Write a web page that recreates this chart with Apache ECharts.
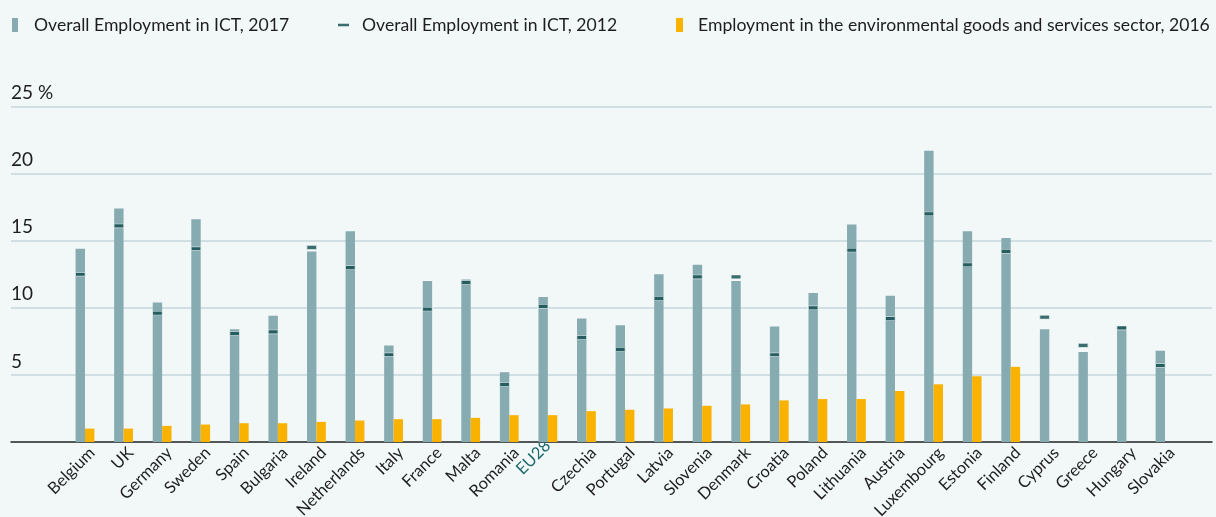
<!DOCTYPE html>
<html>
<head>
<meta charset="utf-8">
<script src="https://cdn.jsdelivr.net/npm/echarts@6/dist/echarts.min.js"></script>
<style>
  html, body { margin: 0; padding: 0; background: #f2f7f7; }
  #chart { width: 1216px; height: 517px; }
</style>
</head>
<body>
<div id="chart"></div>
<script>
const categories = ['Belgium', 'UK', 'Germany', 'Sweden', 'Spain', 'Bulgaria', 'Ireland', 'Netherlands', 'Italy', 'France',
  'Malta', 'Romania', 'EU28', 'Czechia', 'Portugal', 'Latvia', 'Slovenia', 'Denmark', 'Croatia', 'Poland',
  'Lithuania', 'Austria', 'Luxembourg', 'Estonia', 'Finland', 'Cyprus', 'Greece', 'Hungary', 'Slovakia']
// Overall Employment in ICT, 2017
const ict2017 = [14.4, 17.4, 10.4, 16.6, 8.4, 9.4, 14.2, 15.7, 7.2, 12.0,
  12.1, 5.2, 10.8, 9.2, 8.7, 12.5, 13.2, 12.0, 8.6, 11.1,
  16.2, 10.9, 21.7, 15.7, 15.2, 8.4, 6.7, 8.6, 6.8]
// Overall Employment in ICT, 2012
const ict2012 = [12.5, 16.1, 9.6, 14.4, 8.1, 8.2, 14.5, 13.0, 6.5, 9.9,
  11.9, 4.3, 10.1, 7.8, 6.9, 10.7, 12.3, 12.3, 6.5, 10.0,
  14.3, 9.2, 17.0, 13.2, 14.2, 9.3, 7.2, 8.5, 5.7]
// Employment in the environmental goods and services sector, 2016
const env2016 = [1.0, 1.0, 1.2, 1.3, 1.4, 1.4, 1.5, 1.6, 1.7, 1.7,
  1.8, 2.0, 2.0, 2.3, 2.4, 2.5, 2.7, 2.8, 3.1, 3.2,
  3.2, 3.8, 4.3, 4.9, 5.6, null, null, null, null]
const yTicks = [0, 5, 10, 15, 20, 25]

const names = ['Overall Employment in ICT, 2017', 'Overall Employment in ICT, 2012',
  'Employment in the environmental goods and services sector, 2016']
const FONT = 'Lato'
const legendText = (padLeft) => ({
  color: '#1e1e1e',
  fontSize: 17.6,
  fontFamily: FONT,
  lineHeight: 20,
  padding: [0, 0, 0, padLeft]
})

const chart = echarts.init(document.getElementById('chart'))
chart.setOption({
  backgroundColor: '#f2f7f7',
  animation: false,
  textStyle: { fontFamily: FONT },
  legend: [
    {
      left: 12, top: 15, padding: 0, itemWidth: 6, itemHeight: 14,
      data: [{ name: names[0], icon: 'rect' }],
      textStyle: legendText(11)
    },
    {
      left: 338, top: 15, padding: 0, itemWidth: 11, itemHeight: 2.5,
      data: [{ name: names[1], icon: 'rect', itemStyle: { borderWidth: 0 } }],
      textStyle: legendText(8)
    },
    {
      left: 676, top: 15, padding: 0, itemWidth: 7, itemHeight: 14,
      data: [{ name: names[2], icon: 'rect' }],
      textStyle: legendText(10)
    }
  ],
  grid: [
    { left: 11, right: 4, top: 106.5, bottom: 75, outerBoundsMode: 'none', containLabel: false },
    { left: 65.7, right: 31.7, top: 106.5, bottom: 75, outerBoundsMode: 'none', containLabel: false }
  ],
  xAxis: [
    {
      gridIndex: 0, type: 'value', min: 0, max: 1,
      axisLine: { show: true, lineStyle: { color: '#2a2a2a', width: 1.5 } },
      axisTick: { show: false }, axisLabel: { show: false }, splitLine: { show: false }
    },
    {
      gridIndex: 1, type: 'category',
      data: categories.map(c => c === 'EU28' ? { value: c, textStyle: { color: '#1f6a6e' } } : c),
      axisLine: { show: false }, axisTick: { show: false },
      axisLabel: {
        interval: 0, rotate: 45, margin: 1, verticalAlign: 'top', lineHeight: 20,
        fontSize: 16.5, color: '#1e1e1e', fontFamily: FONT
      }
    }
  ],
  yAxis: [
    {
      gridIndex: 0, type: 'value', min: 0, max: 25, interval: 5,
      axisLine: { show: false }, axisTick: { show: false },
      splitLine: { lineStyle: { color: '#c6d7db', width: 1.5 } },
      axisLabel: {
        inside: true, margin: 0, verticalAlign: 'bottom', padding: [0, 0, 4, 0],
        fontSize: 19, color: '#1e1e1e', fontFamily: FONT,
        formatter: v => v === 0 ? '' : (v === yTicks[yTicks.length - 1] ? v + ' %' : String(v))
      }
    },
    { gridIndex: 1, type: 'value', min: 0, max: 25, interval: 5, show: false }
  ],
  series: [
    {
      name: names[0], type: 'bar', xAxisIndex: 1, yAxisIndex: 1,
      data: ict2017, barWidth: 9.4, barGap: '0%',
      itemStyle: { color: '#86abb0' }
    },
    {
      name: names[2], type: 'bar', xAxisIndex: 1, yAxisIndex: 1,
      data: env2016, barWidth: 9.4, barGap: '0%',
      itemStyle: { color: '#f9b200' }
    },
    {
      name: names[1], type: 'scatter', xAxisIndex: 1, yAxisIndex: 1,
      data: ict2012, symbol: 'rect', symbolSize: [10.4, 3.8], symbolOffset: [-4.7, 0], z: 5,
      itemStyle: { color: '#0c4a4c', borderColor: '#f2f7f7', borderWidth: 1 }
    }
  ]
})
</script>
</body>
</html>
